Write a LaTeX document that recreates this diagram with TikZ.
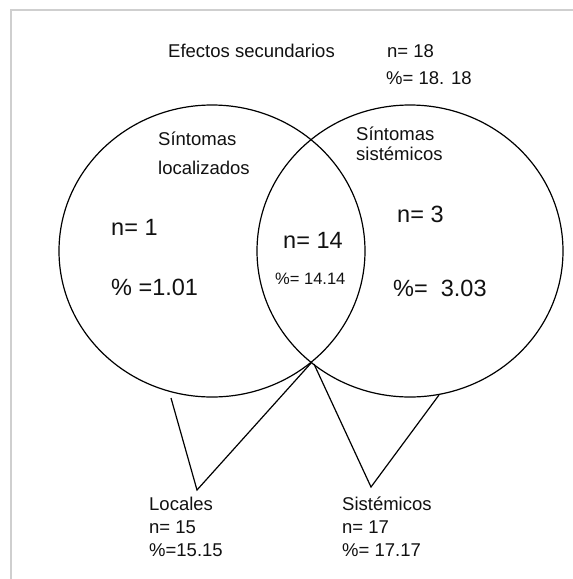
\documentclass[tikz,border=0pt]{standalone}
\usepackage{fontspec}
\setmainfont{Liberation Sans}
\usetikzlibrary{shapes.geometric}
\definecolor{framegray}{HTML}{CFCFCF}
\definecolor{ink}{HTML}{111111}
\tikzset{
  x=1pt, y=-1pt,
  vset/.style={draw=black, line width=1.2pt, ellipse, minimum width=306pt, minimum height=292pt, inner sep=0pt},
  wedge/.style={draw=black, line width=1.2pt, line join=miter},
  small/.style={anchor=base west, inner sep=0pt, text=ink, font=\fontsize{18.5}{22}\selectfont},
  big/.style={anchor=base west, inner sep=0pt, text=ink, font=\fontsize{23.5}{28}\selectfont},
  mid/.style={anchor=base west, inner sep=0pt, text=ink, font=\fontsize{16.5}{19}\selectfont},
  stack/.style={anchor=north west, inner sep=0pt, text=ink, align=left, font=\fontsize{18.5}{23}\selectfont}
}
\begin{document}
\begin{tikzpicture}
\useasboundingbox (0,0) rectangle (573,579);
\fill[white] (0,0) rectangle (573,579);
\draw[framegray, line width=2pt] (11,579) -- (11,10) -- (573,10);

% circles
\node[vset] (L) at (212,251) {};
\node[vset] (R) at (410,251) {};

% triangle points
\coordinate (X) at (312,362);
\coordinate (Lb) at (171,398);
\coordinate (Lt) at (197,490);
\coordinate (Rb) at (439,395);
\coordinate (Rt) at (371,487);
\coordinate (Xr) at (314,364);

\draw[wedge] (Lb) -- (Lt) -- (X);
\draw[wedge] (Xr) -- (Rt) -- (Rb);

% title texts
\node[small] (title) at (168,57) {Efectos secundarios};
\node[small] (tn) at (387,57) {n= 18};
\node[small] (tp) at (386,84) {\%= 18. 18};

% set labels
\node[small] (sl1) at (158,145) {Síntomas};
\node[small] (sl2) at (158,174) {localizados};
\node[small] (sr1) at (356,140) {Síntomas};
\node[small] (sr2) at (356,160) {sistémicos};

% counts
\node[big] (n1) at (111,235) {n= 1};
\node[big] (p1) at (111,295) {\% =1.01};
\node[big] (n14) at (283,248) {n= 14};
\node[mid] (p14) at (275,284) {\%= 14.14};
\node[big] (n3) at (397,222) {n= 3};
\node[big] (p3) at (393,296) {\%=\ \ 3.03};

% bottom labels
\node[stack] (loc) at (149,497) {Locales\\n= 15\\\%=15.15};
\node[stack] (sis) at (342,497) {Sistémicos\\n= 17\\\%= 17.17};
\end{tikzpicture}
\end{document}
